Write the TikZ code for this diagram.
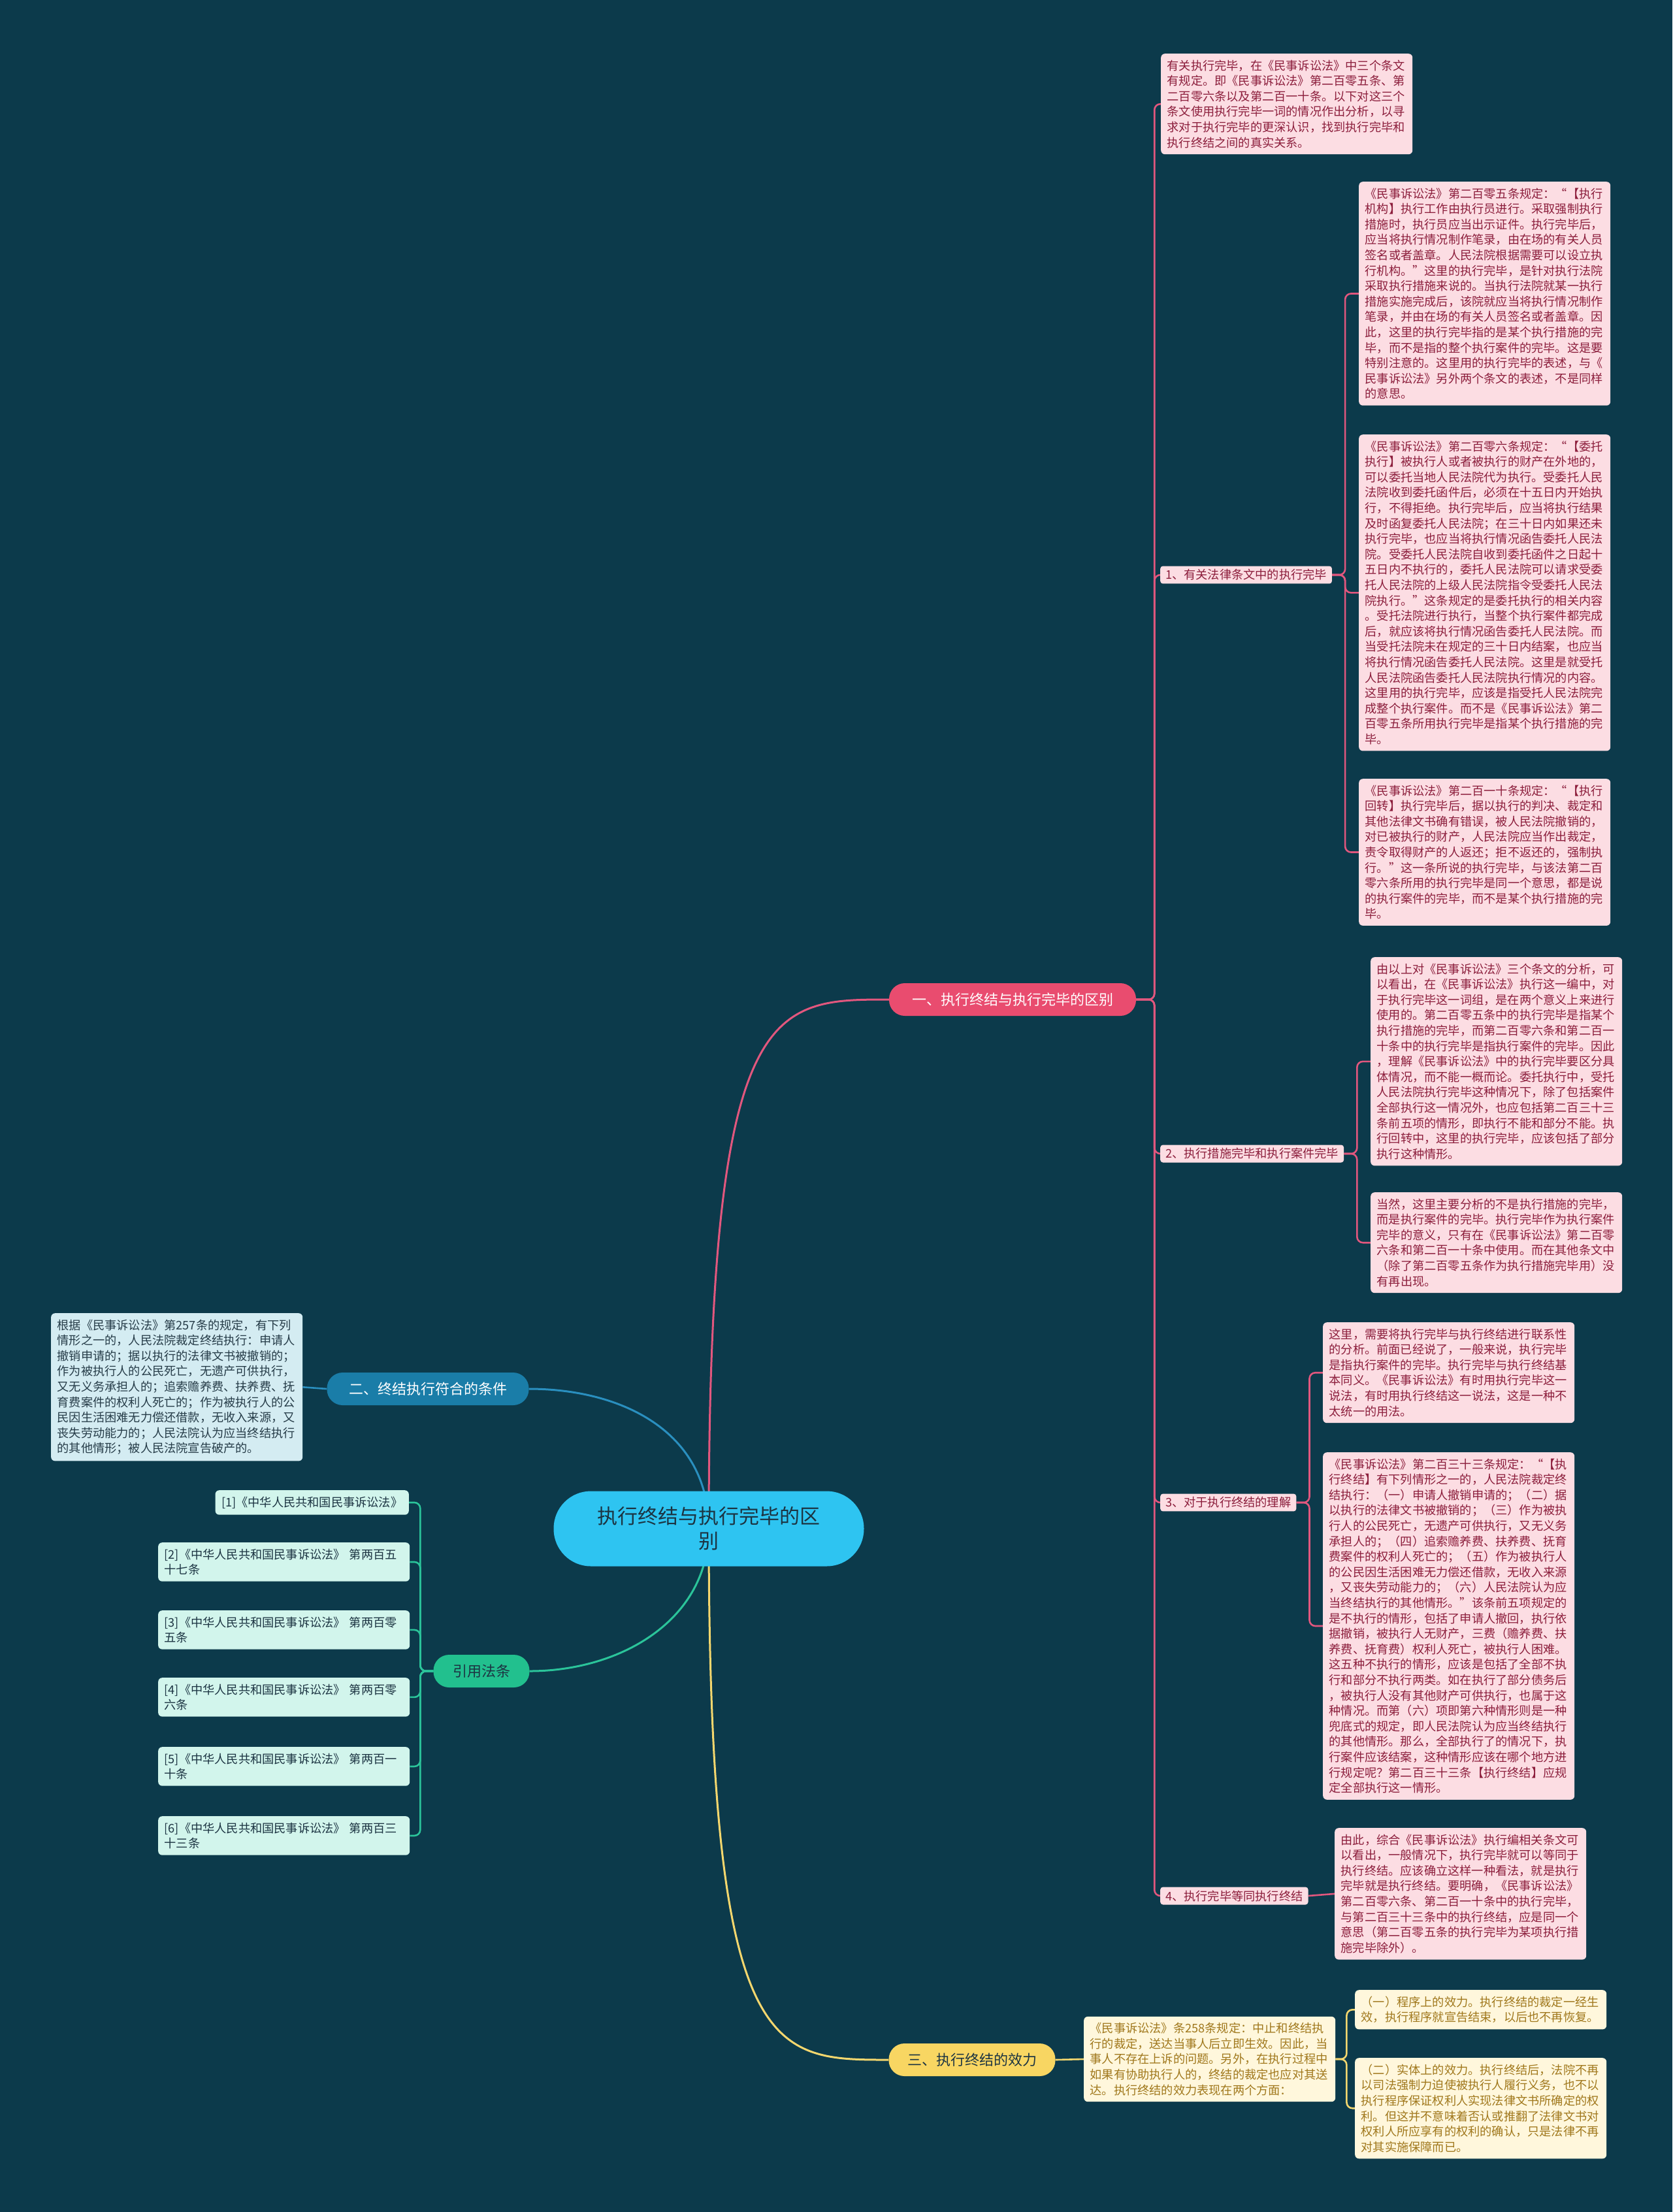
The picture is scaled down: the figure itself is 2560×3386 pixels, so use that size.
\documentclass[tikz,border=0pt]{standalone}
\usepackage{fontspec}
\setmainfont{Noto Sans CJK SC}
\pgfdeclarelayer{back}
\pgfdeclarelayer{edge}
\pgfsetlayers{back,edge,main}
\definecolor{bgc}{HTML}{0C3A4B}
\definecolor{pinkfill}{HTML}{FCDDE3}
\definecolor{pinktext}{HTML}{8C1E3C}
\definecolor{pinkline}{HTML}{E2577E}
\definecolor{bonecol}{HTML}{E94C6F}
\definecolor{yelfill}{HTML}{FFF7DC}
\definecolor{yeltext}{HTML}{A0781C}
\definecolor{yelline}{HTML}{F5D76E}
\definecolor{bthreecol}{HTML}{F8D662}
\definecolor{bluefill}{HTML}{D4ECF2}
\definecolor{bluetext}{HTML}{263C48}
\definecolor{blueline}{HTML}{2A8FBF}
\definecolor{btwocol}{HTML}{1A7DA8}
\definecolor{greenfill}{HTML}{D2F5EC}
\definecolor{greenline}{HTML}{2BC49A}
\definecolor{bgreencol}{HTML}{22C08E}
\definecolor{rootcol}{HTML}{2EC4F1}
\definecolor{darktext}{HTML}{1C3442}
\newcommand\fsbody{\fontsize{18.2}{23.6}\selectfont}
\newcommand\fsbranch{\fontsize{22}{27}\selectfont}
\newcommand\fsroot{\fontsize{31}{38}\selectfont}
\tikzset{
  txtbox/.style={rounded corners=6pt, inner xsep=9.5pt, inner ysep=9.5pt,
    text width=366pt, align=left, font=\fsbody, anchor=north west},
  pinkbox/.style={txtbox, fill=pinkfill, text=pinktext},
  yelbox/.style={txtbox, fill=yelfill, text=yeltext},
  bluebox/.style={txtbox, fill=bluefill, text=bluetext},
  refbox/.style={txtbox, fill=greenfill, text=darktext},
  subnode/.style={rounded corners=4pt, inner xsep=8pt, inner ysep=5pt,
    font=\fsbody, fill=pinkfill, text=pinktext, anchor=west},
  branch/.style={rounded corners=24pt, minimum height=50pt, font=\fsbranch,
    inner xsep=20pt},
  rootnode/.style={fill=rootcol, text=darktext, rounded corners=57pt,
    minimum width=475pt, minimum height=115pt, align=center, font=\fsroot},
  mainlink/.style={line width=3pt},
  sublink/.style={line width=2.6pt, rounded corners=9pt},
}
\begin{document}
\begin{tikzpicture}[x=1pt,y=-1pt]
\begin{pgfonlayer}{back}
\useasboundingbox[fill=bgc] (0,0) rectangle (2560,3386);
\end{pgfonlayer}

% root and branches
\node[rootnode] (root) at (1085,2340) {执行终结与执行完毕的区\\别};
\node[branch, fill=bonecol, text=white, minimum width=378pt] (b1) at (1550,1530) {一、执行终结与执行完毕的区别};
\node[branch, fill=btwocol, text=white, minimum width=309pt] (b2) at (655,2126) {二、终结执行符合的条件};
\node[branch, fill=bgreencol, text=darktext, minimum width=147pt] (b4) at (737,2558) {引用法条};
\node[branch, fill=bthreecol, text=darktext, minimum width=255pt] (b3) at (1488,3153) {三、执行终结的效力};

% branch 1 children
\node[pinkbox] (A) at (1777,82) {有关执行完毕，在《民事诉讼法》中三个条文\\
有规定。即《民事诉讼法》第二百零五条、第\\
二百零六条以及第二百一十条。以下对这三个\\
条文使用执行完毕一词的情况作出分析，以寻\\
求对于执行完毕的更深认识，找到执行完毕和\\
执行终结之间的真实关系。};

\node[subnode] (S1) at (1776,880) {1、有关法律条文中的执行完毕};
\node[subnode] (S2) at (1776,1766) {2、执行措施完毕和执行案件完毕};
\node[subnode] (S3) at (1776,2300) {3、对于执行终结的理解};
\node[subnode] (S4) at (1776,2902) {4、执行完毕等同执行终结};

\node[pinkbox] (B) at (2080,278) {《民事诉讼法》第二百零五条规定：“【执行\\
机构】执行工作由执行员进行。采取强制执行\\
措施时，执行员应当出示证件。执行完毕后，\\
应当将执行情况制作笔录，由在场的有关人员\\
签名或者盖章。人民法院根据需要可以设立执\\
行机构。”这里的执行完毕，是针对执行法院\\
采取执行措施来说的。当执行法院就某一执行\\
措施实施完成后，该院就应当将执行情况制作\\
笔录，并由在场的有关人员签名或者盖章。因\\
此，这里的执行完毕指的是某个执行措施的完\\
毕，而不是指的整个执行案件的完毕。这是要\\
特别注意的。这里用的执行完毕的表述，与《\\
民事诉讼法》另外两个条文的表述，不是同样\\
的意思。};

\node[pinkbox] (C) at (2080,665) {《民事诉讼法》第二百零六条规定：“【委托\\
执行】被执行人或者被执行的财产在外地的，\\
可以委托当地人民法院代为执行。受委托人民\\
法院收到委托函件后，必须在十五日内开始执\\
行，不得拒绝。执行完毕后，应当将执行结果\\
及时函复委托人民法院；在三十日内如果还未\\
执行完毕，也应当将执行情况函告委托人民法\\
院。受委托人民法院自收到委托函件之日起十\\
五日内不执行的，委托人民法院可以请求受委\\
托人民法院的上级人民法院指令受委托人民法\\
院执行。”这条规定的是委托执行的相关内容\\
。受托法院进行执行，当整个执行案件都完成\\
后，就应该将执行情况函告委托人民法院。而\\
当受托法院未在规定的三十日内结案，也应当\\
将执行情况函告委托人民法院。这里是就受托\\
人民法院函告委托人民法院执行情况的内容。\\
这里用的执行完毕，应该是指受托人民法院完\\
成整个执行案件。而不是《民事诉讼法》第二\\
百零五条所用执行完毕是指某个执行措施的完\\
毕。};

\node[pinkbox] (D) at (2080,1192) {《民事诉讼法》第二百一十条规定：“【执行\\
回转】执行完毕后，据以执行的判决、裁定和\\
其他法律文书确有错误，被人民法院撤销的，\\
对已被执行的财产，人民法院应当作出裁定，\\
责令取得财产的人返还；拒不返还的，强制执\\
行。”这一条所说的执行完毕，与该法第二百\\
零六条所用的执行完毕是同一个意思，都是说\\
的执行案件的完毕，而不是某个执行措施的完\\
毕。};

\node[pinkbox] (E) at (2098,1465) {由以上对《民事诉讼法》三个条文的分析，可\\
以看出，在《民事诉讼法》执行这一编中，对\\
于执行完毕这一词组，是在两个意义上来进行\\
使用的。第二百零五条中的执行完毕是指某个\\
执行措施的完毕，而第二百零六条和第二百一\\
十条中的执行完毕是指执行案件的完毕。因此\\
，理解《民事诉讼法》中的执行完毕要区分具\\
体情况，而不能一概而论。委托执行中，受托\\
人民法院执行完毕这种情况下，除了包括案件\\
全部执行这一情况外，也应包括第二百三十三\\
条前五项的情形，即执行不能和部分不能。执\\
行回转中，这里的执行完毕，应该包括了部分\\
执行这种情形。};

\node[pinkbox] (F) at (2098,1825) {当然，这里主要分析的不是执行措施的完毕，\\
而是执行案件的完毕。执行完毕作为执行案件\\
完毕的意义，只有在《民事诉讼法》第二百零\\
六条和第二百一十条中使用。而在其他条文中\\
（除了第二百零五条作为执行措施完毕用）没\\
有再出现。};

\node[pinkbox] (G) at (2025,2024) {这里，需要将执行完毕与执行终结进行联系性\\
的分析。前面已经说了，一般来说，执行完毕\\
是指执行案件的完毕。执行完毕与执行终结基\\
本同义。《民事诉讼法》有时用执行完毕这一\\
说法，有时用执行终结这一说法，这是一种不\\
太统一的用法。};

\node[pinkbox] (H) at (2025,2223) {《民事诉讼法》第二百三十三条规定：“【执\\
行终结】有下列情形之一的，人民法院裁定终\\
结执行：（一）申请人撤销申请的；（二）据\\
以执行的法律文书被撤销的；（三）作为被执\\
行人的公民死亡，无遗产可供执行，又无义务\\
承担人的；（四）追索赡养费、扶养费、抚育\\
费案件的权利人死亡的；（五）作为被执行人\\
的公民因生活困难无力偿还借款，无收入来源\\
，又丧失劳动能力的；（六）人民法院认为应\\
当终结执行的其他情形。”该条前五项规定的\\
是不执行的情形，包括了申请人撤回，执行依\\
据撤销，被执行人无财产，三费（赡养费、扶\\
养费、抚育费）权利人死亡，被执行人困难。\\
这五种不执行的情形，应该是包括了全部不执\\
行和部分不执行两类。如在执行了部分债务后\\
，被执行人没有其他财产可供执行，也属于这\\
种情况。而第（六）项即第六种情形则是一种\\
兜底式的规定，即人民法院认为应当终结执行\\
的其他情形。那么，全部执行了的情况下，执\\
行案件应该结案，这种情形应该在哪个地方进\\
行规定呢？第二百三十三条【执行终结】应规\\
定全部执行这一情形。};

\node[pinkbox] (I) at (2043,2798) {由此，综合《民事诉讼法》执行编相关条文可\\
以看出，一般情况下，执行完毕就可以等同于\\
执行终结。应该确立这样一种看法，就是执行\\
完毕就是执行终结。要明确，《民事诉讼法》\\
第二百零六条、第二百一十条中的执行完毕，\\
与第二百三十三条中的执行终结，应是同一个\\
意思（第二百零五条的执行完毕为某项执行措\\
施完毕除外）。};

% branch 3 children
\node[yelbox, anchor=west] (J) at (1659,3152) {《民事诉讼法》条258条规定：中止和终结执\\
行的裁定，送达当事人后立即生效。因此，当\\
事人不存在上诉的问题。另外，在执行过程中\\
如果有协助执行人的，终结的裁定也应对其送\\
达。执行终结的效力表现在两个方面：};
\node[yelbox] (K1) at (2074,3046) {（一）程序上的效力。执行终结的裁定一经生\\
效，执行程序就宣告结束，以后也不再恢复。};
\node[yelbox] (K2) at (2074,3150) {（二）实体上的效力。执行终结后，法院不再\\
以司法强制力迫使被执行人履行义务，也不以\\
执行程序保证权利人实现法律文书所确定的权\\
利。但这并不意味着否认或推翻了法律文书对\\
权利人所应享有的权利的确认，只是法律不再\\
对其实施保障而已。};

% branch 2 child
\node[bluebox] (L) at (78,2010) {根据《民事诉讼法》第257条的规定，有下列\\
情形之一的，人民法院裁定终结执行：申请人\\
撤销申请的；据以执行的法律文书被撤销的；\\
作为被执行人的公民死亡，无遗产可供执行，\\
又无义务承担人的；追索赡养费、扶养费、抚\\
育费案件的权利人死亡的；作为被执行人的公\\
民因生活困难无力偿还借款，无收入来源，又\\
丧失劳动能力的；人民法院认为应当终结执行\\
的其他情形；被人民法院宣告破产的。};

% references
\node[refbox, text width=, anchor=north east] (R1) at (626,2281) {[1]《中华人民共和国民事诉讼法》};
\node[refbox] (R2) at (242,2361) {[2]《中华人民共和国民事诉讼法》 第两百五\\十七条};
\node[refbox] (R3) at (242,2465) {[3]《中华人民共和国民事诉讼法》 第两百零\\五条};
\node[refbox] (R4) at (242,2568) {[4]《中华人民共和国民事诉讼法》 第两百零\\六条};
\node[refbox] (R5) at (242,2674) {[5]《中华人民共和国民事诉讼法》 第两百一\\十条};
\node[refbox] (R6) at (242,2780) {[6]《中华人民共和国民事诉讼法》 第两百三\\十三条};

\begin{pgfonlayer}{edge}
% main curves
\draw[mainlink, pinkline] (root.center) .. controls (1085,1530) and (1180,1530) .. (b1.west);
\draw[mainlink, blueline] (root.center) .. controls (1085,2190) and (950,2126) .. (b2.east);
\draw[mainlink, greenline] (root.center) .. controls (1085,2480) and (950,2558) .. (b4.east);
\draw[mainlink, yelline] (root.center) .. controls (1085,3153) and (1180,3153) .. (b3.west);
% branch 1
\foreach \t in {A,S1,S2,S3,S4}
  \draw[sublink, pinkline] (b1.east) -- ++(28,0) |- (\t.west);
\foreach \t in {B,C,D}
  \draw[sublink, pinkline] (S1.east) -- ++(20,0) |- (\t.west);
\foreach \t in {E,F}
  \draw[sublink, pinkline] (S2.east) -- ++(20,0) |- (\t.west);
\foreach \t in {G,H}
  \draw[sublink, pinkline] (S3.east) -- ++(20,0) |- (\t.west);
\draw[sublink, pinkline] (S4.east) -- (I.west);
% branch 2
\draw[sublink, blueline] (b2.west) -- (L.east);
% references
\foreach \t in {R1,R2,R3,R4,R5,R6}
  \draw[sublink, greenline] (b4.west) -- ++(-20,0) |- (\t.east);
% branch 3
\draw[sublink, yelline] (b3.east) -- (J.west);
\foreach \t in {K1,K2}
  \draw[sublink, yelline] (J.east) -- ++(17,0) |- (\t.west);
\end{pgfonlayer}
\end{tikzpicture}
\end{document}
